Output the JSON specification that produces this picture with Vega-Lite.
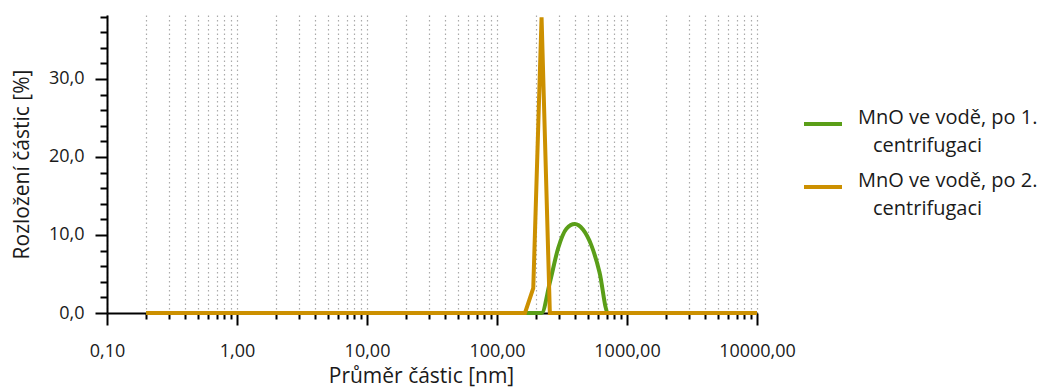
{
  "$schema": "https://vega.github.io/schema/vega-lite/v6.json",
  "width": 650,
  "height": 298,
  "autosize": {"type": "none"},
  "padding": {"left": 107, "top": 15, "right": 297, "bottom": 79},
  "background": "white",
  "config": {"view": {"stroke": null}, "font": "Open Sans"},
  "data": {
    "values": [
      {"d": 0.2, "v": 0, "series": "MnO ve vodě, po 1. centrifugaci"},
      {"d": 190.1, "v": 0, "series": "MnO ve vodě, po 1. centrifugaci"},
      {"d": 220.2, "v": 0, "series": "MnO ve vodě, po 1. centrifugaci"},
      {"d": 255.0, "v": 3.9, "series": "MnO ve vodě, po 1. centrifugaci"},
      {"d": 295.3, "v": 8.3, "series": "MnO ve vodě, po 1. centrifugaci"},
      {"d": 342.0, "v": 10.8, "series": "MnO ve vodě, po 1. centrifugaci"},
      {"d": 396.1, "v": 11.4, "series": "MnO ve vodě, po 1. centrifugaci"},
      {"d": 458.7, "v": 10.7, "series": "MnO ve vodě, po 1. centrifugaci"},
      {"d": 531.2, "v": 8.7, "series": "MnO ve vodě, po 1. centrifugaci"},
      {"d": 615.1, "v": 5.2, "series": "MnO ve vodě, po 1. centrifugaci"},
      {"d": 712.4, "v": 0, "series": "MnO ve vodě, po 1. centrifugaci"},
      {"d": 825.0, "v": 0, "series": "MnO ve vodě, po 1. centrifugaci"},
      {"d": 10000, "v": 0, "series": "MnO ve vodě, po 1. centrifugaci"},
      {"d": 0.2, "v": 0, "series": "MnO ve vodě, po 2. centrifugaci"},
      {"d": 164.2, "v": 0, "series": "MnO ve vodě, po 2. centrifugaci"},
      {"d": 190.1, "v": 3.2, "series": "MnO ve vodě, po 2. centrifugaci"},
      {"d": 220.2, "v": 37.9, "series": "MnO ve vodě, po 2. centrifugaci"},
      {"d": 255.0, "v": 0, "series": "MnO ve vodě, po 2. centrifugaci"},
      {"d": 10000, "v": 0, "series": "MnO ve vodě, po 2. centrifugaci"}
    ]
  },
  "encoding": {
    "x": {
      "field": "d",
      "type": "quantitative",
      "scale": {"type": "log", "domain": [0.1, 10000], "nice": false},
      "axis": {
        "title": "Průměr částic [nm]",
        "titleFontSize": 21,
        "titleFontWeight": "normal",
        "titleColor": "#1a1a1a",
        "titleX": 314,
        "titlePadding": 5,
        "values": [0.1,0.2,0.3,0.4,0.5,0.6,0.7,0.8,0.9,1,2,3,4,5,6,7,8,9,10,20,30,40,50,60,70,80,90,100,200,300,400,500,600,700,800,900,1000,2000,3000,4000,5000,6000,7000,8000,9000,10000],
        "labelExpr": "abs(log(datum.value)/LN10 - round(log(datum.value)/LN10)) < 0.000001 ? replace(format(datum.value, '.2f'), '.', ',') : ''",
        "labelOverlap": false,
        "labelFlush": false,
        "labelBound": false,
        "labelFontSize": 18,
        "labelColor": "#1a1a1a",
        "labelPadding": 17,
        "tickSize": {"condition": {"test": "abs(log(datum.value)/LN10 - round(log(datum.value)/LN10)) < 0.000001", "value": 12}, "value": 6},
        "tickColor": "black",
        "tickWidth": 2,
        "domainColor": "black",
        "domainWidth": 2,
        "grid": true,
        "gridDash": [1.5, 3],
        "gridColor": "#aaaaaa",
        "gridWidth": 1.2
      }
    },
    "y": {
      "field": "v",
      "type": "quantitative",
      "scale": {"domain": [0, 38.2], "nice": false},
      "axis": {
        "title": "Rozložení částic [%]",
        "titleFontSize": 21,
        "titleFontWeight": "normal",
        "titleColor": "#1a1a1a",
        "titlePadding": 16,
        "values": [0,2,4,6,8,10,12,14,16,18,20,22,24,26,28,30,32,34,36,38],
        "labelExpr": "datum.value % 10 == 0 ? replace(format(datum.value, '.1f'), '.', ',') : ''",
        "labelOverlap": false,
        "labelFontSize": 18,
        "labelColor": "#1a1a1a",
        "labelPadding": 11,
        "tickSize": {"condition": {"test": "datum.value % 10 == 0", "value": 12}, "value": 7},
        "tickColor": "black",
        "tickWidth": 2,
        "domainColor": "black",
        "domainWidth": 2,
        "grid": false
      }
    },
    "color": {
      "field": "series",
      "type": "nominal",
      "scale": {
        "domain": ["MnO ve vodě, po 1. centrifugaci", "MnO ve vodě, po 2. centrifugaci"],
        "range": ["#5a9e18", "#cc9000"]
      },
      "legend": {
        "title": null,
        "orient": "none",
        "legendX": 695,
        "legendY": 88,
        "symbolType": "stroke",
        "symbolSize": 1444,
        "symbolStrokeWidth": 4,
        "labelFontSize": 20,
        "labelColor": "#1a1a1a",
        "labelLimit": 400,
        "labelOffset": 14,
        "labelExpr": "[slice(datum.label, 0, 18), '\u2800' + slice(datum.label, 19)]",
        "rowPadding": 10,
        "encode": {"labels": {"update": {"lineHeight": {"value": 28}, "dy": {"value": -6}}}}
      }
    }
  },
  "layer": [
    {
      "transform": [{"filter": "datum.series == 'MnO ve vodě, po 1. centrifugaci'"}],
      "mark": {"type": "line", "interpolate": "monotone", "strokeWidth": 4}
    },
    {
      "transform": [{"filter": "datum.series == 'MnO ve vodě, po 2. centrifugaci'"}],
      "mark": {"type": "line", "strokeWidth": 4}
    }
  ]
}
